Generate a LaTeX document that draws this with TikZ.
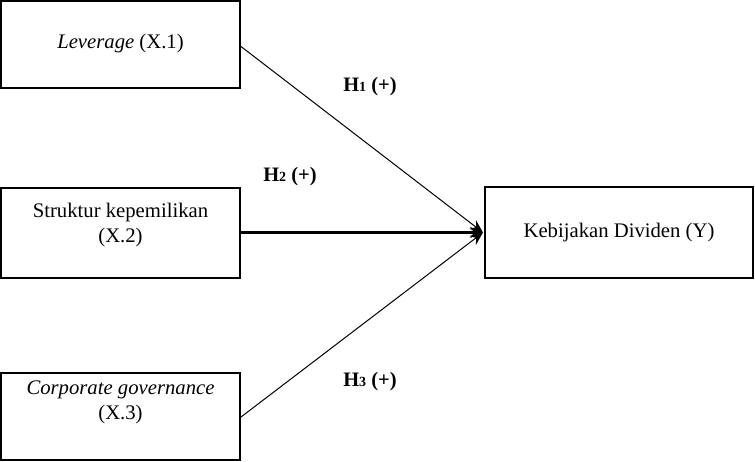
\documentclass[tikz,border=0pt]{standalone}
\usepackage{fontspec}
\setmainfont{Liberation Serif}
\usetikzlibrary{arrows.meta}
\begin{document}
\begin{tikzpicture}[x=1pt,y=-1pt,
  box/.style={draw, line width=2pt, inner sep=0pt},
  txt/.style={inner sep=0pt, align=center, font=\fontsize{20.7}{25}\selectfont},
  hyp/.style={inner sep=0pt, font=\fontsize{20.5}{23}\selectfont\bfseries},
  thin/.style={line width=1pt, -{Stealth[length=13pt,width=11pt]}},
  thick/.style={line width=2.6pt, -{Stealth[length=13pt,width=11pt]}}]
\useasboundingbox (0,0) rectangle (755,461);
\node[box, minimum width=239pt, minimum height=87pt] (x1) at (120.5,44.5) {};
\node[box, minimum width=239pt, minimum height=90pt] (x2) at (120.5,233) {};
\node[box, minimum width=239pt, minimum height=87pt] (x3) at (120.5,416) {};
\node[box, minimum width=268pt, minimum height=91pt] (y) at (619,232.5) {};
\node[txt] (t1) at (120.5,44) {\textit{Leverage} (X.1)};
\node[txt] (t2) at (120.5,225) {Struktur kepemilikan\\(X.2)};
\node[txt] (t3) at (120.5,402) {\textit{Corporate governance}\\(X.3)};
\node[txt] (ty) at (619,233) {Kebijakan Dividen (Y)};
\coordinate (e) at ([xshift=-1pt]y.west);
\draw[thin] ([yshift=-2pt]x1.east) -- (e);
\draw[thick] (x2.east |- e) -- (e);
\draw[thin] ([yshift=-1pt]x3.east) -- (e);
\node[hyp] (h1) at (370,87) {H{\fontsize{14}{14}\selectfont 1} (+)};
\node[hyp] (h2) at (290,177) {H{\fontsize{14}{14}\selectfont 2} (+)};
\node[hyp] (h3) at (370,382) {H{\fontsize{14}{14}\selectfont 3} (+)};
\end{tikzpicture}
\end{document}
